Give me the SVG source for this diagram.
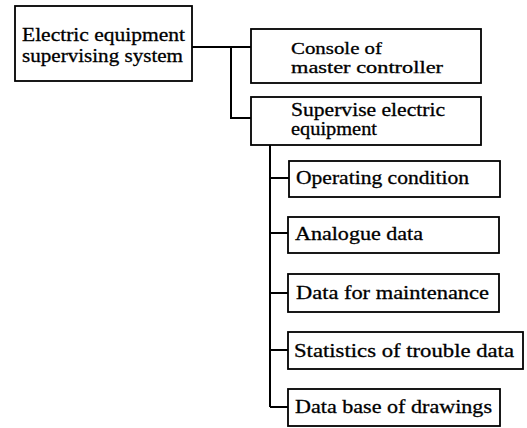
<svg xmlns="http://www.w3.org/2000/svg" width="527" height="428" viewBox="0 0 527 428">
  <style>
    .box { fill: #ffffff; stroke: #000000; stroke-width: 1.8; }
    .wire { fill: none; stroke: #000000; stroke-width: 2; stroke-linejoin: miter; }
    text { font-family: "Liberation Serif", "Times New Roman", serif; font-size: 19px; fill: #000000; stroke: #000000; stroke-width: 0.3; }
    .tight { font-size: 17px; }
  </style>
  <rect width="527" height="428" fill="#ffffff"/>

  <!-- connectors -->
  <g id="connectors" class="wire">
    <path d="M192 47 H251"/>
    <path d="M231 47 V118 H251"/>
    <path d="M270 145 V407"/>
    <path d="M270 178 H289"/>
    <path d="M270 233 H288"/>
    <path d="M270 293 H288"/>
    <path d="M270 350 H288"/>
    <path d="M270 407 H288"/>
  </g>

  <g id="root">
    <rect class="box" x="15" y="6" width="177" height="75"/>
    <text x="22" y="41" textLength="163" lengthAdjust="spacingAndGlyphs">Electric equipment</text>
    <text x="22" y="62" textLength="161" lengthAdjust="spacingAndGlyphs">supervising system</text>
  </g>

  <g id="console">
    <rect class="box" x="251" y="29" width="230" height="54"/>
    <text class="tight" x="291" y="54" textLength="91" lengthAdjust="spacingAndGlyphs">Console of</text>
    <text class="tight" x="291" y="73" textLength="152" lengthAdjust="spacingAndGlyphs">master controller</text>
  </g>

  <g id="supervise">
    <rect class="box" x="251" y="97" width="230" height="48"/>
    <text x="291" y="116" textLength="154" lengthAdjust="spacingAndGlyphs">Supervise electric</text>
    <text x="291" y="135" textLength="86" lengthAdjust="spacingAndGlyphs">equipment</text>
  </g>

  <g id="operating">
    <rect class="box" x="289" y="161" width="211" height="36"/>
    <text x="296" y="184" textLength="173" lengthAdjust="spacingAndGlyphs">Operating condition</text>
  </g>

  <g id="analogue">
    <rect class="box" x="288" y="217" width="211" height="36"/>
    <text x="295" y="240" textLength="128" lengthAdjust="spacingAndGlyphs">Analogue data</text>
  </g>

  <g id="maintenance">
    <rect class="box" x="288" y="274" width="211" height="38"/>
    <text x="296" y="299" textLength="193" lengthAdjust="spacingAndGlyphs">Data for maintenance</text>
  </g>

  <g id="statistics">
    <rect class="box" x="288" y="332" width="235" height="37"/>
    <text x="294" y="357" textLength="220" lengthAdjust="spacingAndGlyphs">Statistics of trouble data</text>
  </g>

  <g id="drawings">
    <rect class="box" x="288" y="389" width="212" height="37"/>
    <text x="295" y="413" textLength="197" lengthAdjust="spacingAndGlyphs">Data base of drawings</text>
  </g>
</svg>
